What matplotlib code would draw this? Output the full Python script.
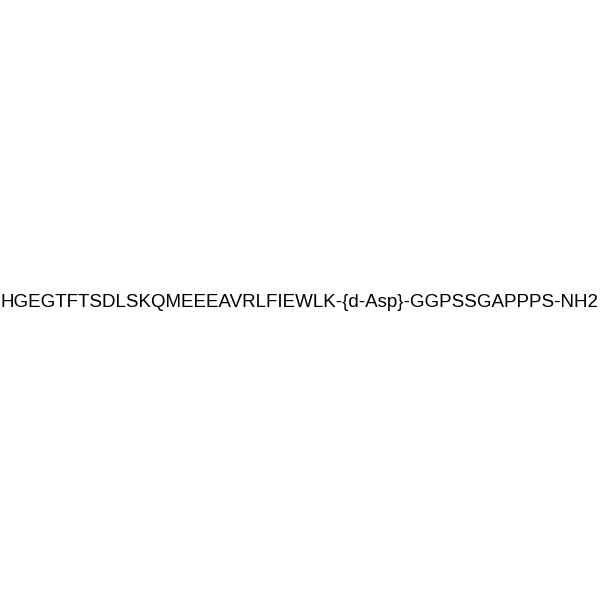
import matplotlib
matplotlib.use("Agg")
from matplotlib import pyplot as plt

# sequence label shown in the middle of the picture
sequence = "HGEGTFTSDLSKQMEEEAVRLFIEWLK-{d-Asp}-GGPSSGAPPPS-NH2"

fig = plt.figure(figsize=(6, 6), dpi=100)
fig.patch.set_facecolor("white")

txt = fig.text(0.5, 0.496, sequence, ha="center", va="center",
               family=["Liberation Sans", "DejaVu Sans"], fontsize=13.5, color="black")

# shrink/grow the font so the line spans the width like the reference
fig.canvas.draw()
width = txt.get_window_extent().width
txt.set_fontsize(13.5 * 599.0 / width)

fig.savefig("out.png", dpi=100, facecolor="white")
